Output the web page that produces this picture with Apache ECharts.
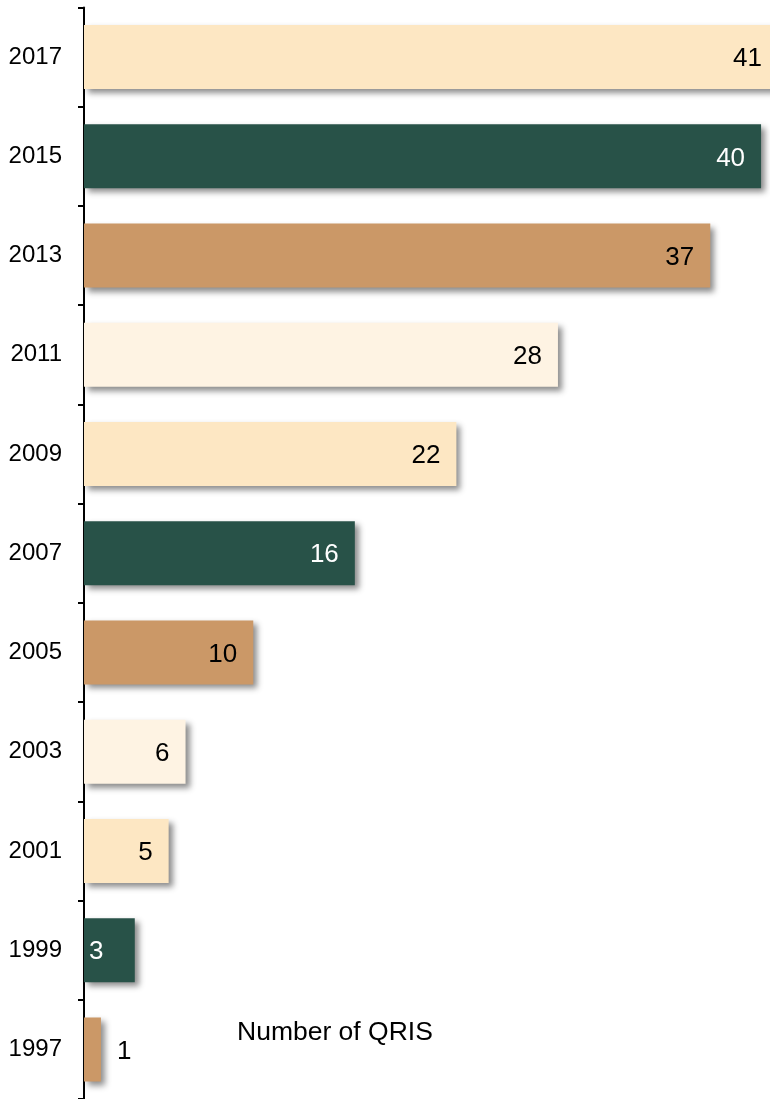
<!DOCTYPE html>
<html>
<head>
<meta charset="utf-8">
<script src="https://cdn.jsdelivr.net/npm/echarts@6/dist/echarts.min.js"></script>
<style>
html,body{margin:0;padding:0;background:#fff;overflow:hidden;width:770px;height:1099px;}
#chart{width:778px;height:1099px;}
</style>
</head>
<body>
<div id="chart"></div>
<script>
const years = ['1997','1999','2001','2003','2005','2007','2009','2011','2013','2015','2017'];
const qrisCounts = [1,3,5,6,10,16,22,28,37,40,41];
const axisTitle = 'Number of QRIS';

const palette = ['#CB9867','#285248','#FDE7C3','#FEF3E3'];
const darkIdx = 1;

const chart = echarts.init(document.getElementById('chart'));
const seriesData = qrisCounts.map((v, i) => {
  const c = palette[i % 4];
  const item = {
    value: v,
    itemStyle: { color: c },
    label: { color: (i % 4 === darkIdx) ? '#ffffff' : '#000000' }
  };
  if (v === 3) {
    item.label.position = 'insideLeft';
    item.label.distance = 5;
  } else if (v === 1) {
    item.label.position = 'right';
    item.label.distance = 16;
  }
  return item;
});

chart.setOption({
  animation: false,
  textStyle: { fontFamily: '"Liberation Sans", Arial, sans-serif' },
  grid: { left: 84, right: 0, top: 7.5, bottom: -0.5, containLabel: false },
  xAxis: {
    type: 'value', min: 0, max: 41, show: false
  },
  yAxis: {
    type: 'category',
    data: years,
    axisLine: { show: true, lineStyle: { color: '#000', width: 2 } },
    axisTick: { show: true, length: 6, lineStyle: { color: '#000', width: 2 } },
    axisLabel: { color: '#000', fontSize: 24, margin: 22, fontFamily: '"Liberation Sans", Arial, sans-serif' },
    splitLine: { show: false }
  },
  graphic: [{
    type: 'text',
    left: 237,
    top: 1019,
    style: { text: axisTitle, fill: '#000', font: '26.5px "Liberation Sans", Arial, sans-serif' }
  }],
  series: [{
    type: 'bar',
    data: seriesData,
    barCategoryGap: '35.5%',
    itemStyle: {
      shadowColor: 'rgba(0,0,0,0.45)',
      shadowBlur: 6,
      shadowOffsetX: 4,
      shadowOffsetY: 4
    },
    label: {
      show: true,
      position: 'insideRight',
      distance: 16,
      offset: [0, 2],
      fontSize: 26,
      fontFamily: '"Liberation Sans", Arial, sans-serif'
    }
  }]
});
</script>
</body>
</html>
